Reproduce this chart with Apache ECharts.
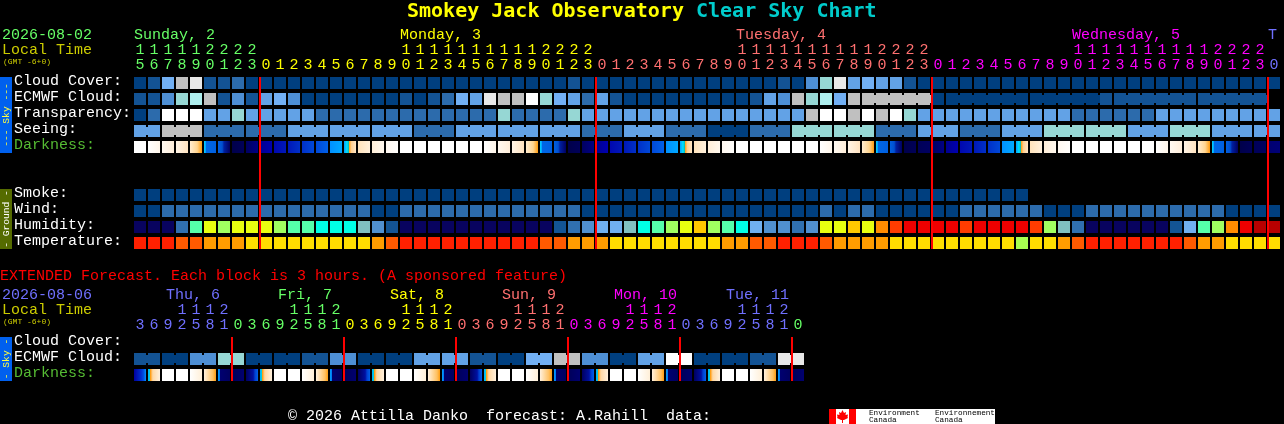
<!DOCTYPE html>
<html>
<head>
<meta charset="utf-8">
<style>html,body{margin:0;padding:0;background:#000}#c{width:1284px;height:424px}</style>
<script src="https://cdn.jsdelivr.net/npm/echarts@6/dist/echarts.min.js"></script>
</head>
<body>
<div id="c"></div>
<script>
// ---------- categories ----------
const rowNames = ['Cloud Cover:','ECMWF Cloud:','Transparency:','Seeing:','Darkness:','','','Smoke:','Wind:','Humidity:','Temperature:'];
const extRowNames = ['Cloud Cover:','ECMWF Cloud:','Darkness:'];
const hourUnits = [5,6,7,8,9,0,1,2,3, 0,1,2,3,4,5,6,7,8,9,0,1,2,3,4,5,6,7,8,9,0,1,2,3, 0,1,2,3,4,5,6,7,8,9,0,1,2,3,4,5,6,7,8,9,0,1,2,3, 0,1,2,3,4,5,6,7,8,9,0,1,2,3,4,5,6,7,8,9,0,1,2,3, 0];
const hourTens = [1,1,1,1,1,2,2,2,2, '','','','','','','','','','',1,1,1,1,1,1,1,1,1,1,2,2,2,2, '','','','','','','','','','',1,1,1,1,1,1,1,1,1,1,2,2,2,2, '','','','','','','','','','',1,1,1,1,1,1,1,1,1,1,2,2,2,2, ''];
const extUnits = [3,6,9,2,5,8,1, 0,3,6,9,2,5,8,1, 0,3,6,9,2,5,8,1, 0,3,6,9,2,5,8,1, 0,3,6,9,2,5,8,1, 0,3,6,9,2,5,8,1, 0];
const extTens = ['','',''    ,1,1,1,2, '','','','',1,1,1,2, '','','','',1,1,1,2, '','','','',1,1,1,2, '','','','',1,1,1,2, '','','','',1,1,1,2, ''];
const dayLabels = [['Sunday, 2',0,0],['Monday, 3',19,1],['Tuesday, 4',43,2],['Wednesday, 5',67,3],['T',81,4]];
const extDayLabels = [['Thu, 6',2,4],['Fri, 7',10,0],['Sat, 8',18,1],['Sun, 9',26,2],['Mon, 10',34,3],['Tue, 11',42,4]];
const dayOfColumn = [0,0,0,0,0,0,0,0,0, 1,1,1,1,1,1,1,1,1,1,1,1,1,1,1,1,1,1,1,1,1,1,1,1, 2,2,2,2,2,2,2,2,2,2,2,2,2,2,2,2,2,2,2,2,2,2,2,2, 3,3,3,3,3,3,3,3,3,3,3,3,3,3,3,3,3,3,3,3,3,3,3,3, 4];
const extDayOfColumn = [4,4,4,4,4,4,4, 0,0,0,0,0,0,0,0, 1,1,1,1,1,1,1,1, 2,2,2,2,2,2,2,2, 3,3,3,3,3,3,3,3, 4,4,4,4,4,4,4,4, 0];
const midnightColumns = [9,33,57,81];
const extMidnightColumns = [7,15,23,31,39,47];

// ---------- series values (palette levels) ----------
const cloudCover = [0,1,5,8,9,1,1,2,0, 0,0,0,0,0,0,0,0,0,0,0,0,0,0,0, 0,0,0,0,0,0,0,1, 0,0,0,0,0,0,0,0,0,0,0,0,0,0,1,0, 3,6,9,4,5,4,4,1, 0,0,0,0,0,0,0,0,0,0,0,0,0,0,0,0,0,0,0,0,0,0,0,0,0,0];
const ecmwfCloud = [1,1,3,6,7,8,1,3,1, 4,5,3,0,0,0,0,0,0,0,1,0,1,2,5, 4,9,8,8,10,6,5,4,2,4,1, 0,0,0,0,0,0,0,0,0,1,4,3, 8,6,7,5, 8,8,8,8,8,8, 0,0,0,0,0,0, 0,0,0,0,0,0, 1,1,1,1,1,1, 1,1,1,1,1,1];
const ecmwfBlockStart = 52;
const ecmwfBlockLengths = [6,6,6,6,6];
const transparency = [0,2,10,10,10,4,4,6,4,4,4,4,4, 2,2,2,2,2,2,2,2,2,2,2,2,2, 6, 2,2,2,2, 6, 4,4,4,4,4,4,4,4,4,4,4,4,4,4,4,4, 8,10,10,8,10,8,10,6, 4,4,4,4,4,4,4,4,4,4,4, 2,2,2,2,2,2, 4,4,4,4,4,4,4,4,4];
const seeingLengths = [2,3,3,3,3,3,3,3,3,3,3,3,3,3,3,3,3,3,3,3,3,3,3,3,3,3,3,2];
const seeingLevels  = [4,8,2,2,4,4,4,2,4,4,4,2,4,2,0,2,6,6,2,4,2,4,6,6,4,6,4,4];
const darkness = 'WpqrstunmabcdefDghiWWWWW'.split('').concat(
  'WpqrstunmabcdefDghiWWWWW'.split(''),
  'WpqrstunomabcdfDghiWWWWW'.split(''),
  'Wpqrstunol'.split(''));
const smoke = [0,0,0,0,0,0,0,0,0,0,0,0,0,0,0,0,0,0,0,0,0,0,0,0,0,0,0,0,0,0,0,0,0,0,0,0,0,0,0,0,0,0,0,0,0,0,0,0,0,0,0,0,0,0,0,0,0,0,0,0,0,0,0,0];
const wind = [0,0, 2,2,2,2,2,2,2,2,2,2,2,2,2,2,2, 0,0, 2,2,2,2,2,2,2,2,2,2,2,2,2, 0,0,0,0,0,0,0,0,0,0,0,0,0,0,0,0,0, 2,0,2,2, 0,0,0,0,0,0, 2,2,2,2,2,2, 0,0,0, 2,2,2,2,2,2,2,2,2,2, 0,0,0,0];
const humidity = [0,0,0,2,7,9,8,9,9,9,8,7,7,6,6,6,5,3,1, 0,0,0,0,0,0,0,0,0,0,0, 1,2,3,4,4,5,6,7,8,9,10,8,7,6,4,3,3,2,3,9,9,10,9,11,12,13,13,13,13,12,13,13,13,13,12,8,5,2, 0,0,0,0,0,0, 1,4,7,8,11,13,14,14];
const temperature = [0,0,0,1,1,2,2,2, 3,3,3,3,3,3,3,3,3, 2,1, 0,0,0,0,0,0,0,0,0,0, 1,1,2,2,2, 3,3,3,3,3,3,3,3, 2,2,1,1,0,0,0,1,2,2,2,2, 3,3,3,3,3,3,3,3,3, 4,3,3,2,1, 0,0,0,0,0,0,0, 1,2,2,3,3,3,3];
const extEcmwfLevels = [1,0,3,6,0,0,1,3,0,0,4,4,1,0,5,8,3,0,4,10,0,0,1,9];
const extEcmwfBlockLength = 2;
const extDarkness = 'ABWWQRST'.split('').concat('CBWWQRST'.split(''),'CBWWQRST'.split(''),'CBWWQRST'.split(''),'CBWWQRST'.split(''),'CBWWQRST'.split(''));

// ---------- palettes ----------
const dayColors = ['#66ff66','#ffff00','#ff7070','#ff00ff','#7070ff'];
const cloudPalette = ['#003f7f','#135394','#2c6bac','#4e8fd4','#62a2e6','#72b0f4','#96d7d4','#aeeeee','#c0c0c0','#e8e8e8','#ffffff'];
const humidityPalette = ['#08035f','#135494','#3070b0','#5090d0','#70b0f0','#80c0c0','#00ffe6','#55ffaa','#a0ff60','#e8ff10','#ffc800','#ff8c00','#ff3c00','#ee0000','#b80000'];
const temperaturePalette = ['#ff2000','#ff5a00','#ff9c00','#ffdd00','#a8ff50'];
const darknessStops = {
  W:[[0,'#ffffff'],[1,'#ffffff']], p:[[0,'#ffffff'],[1,'#fff6ea']], q:[[0,'#fff9f1'],[1,'#ffeeda']],
  r:[[0,'#fff4e6'],[1,'#ffe3c0']], s:[[0,'#ffecd0'],[0.6,'#ffd590'],[1,'#ff9c10']],
  t:[[0,'#00d8ff'],[0.15,'#00a0ff'],[0.2,'#0066e6'],[1,'#0060e0']], u:[[0,'#0060e0'],[0.35,'#0050d0'],[0.5,'#0020a0'],[1,'#000060']],
  n:[[0,'#00004a'],[1,'#000058']], o:[[0,'#000058'],[1,'#000060']], m:[[0,'#000060'],[1,'#000084']], l:[[0,'#000070'],[1,'#000078']],
  a:[[0,'#000090'],[1,'#0000b0']], b:[[0,'#0008b0'],[1,'#0018b8']], c:[[0,'#0018b8'],[1,'#0030c8']],
  d:[[0,'#0030c8'],[1,'#0048d8']], e:[[0,'#0048d8'],[1,'#0060e8']], f:[[0,'#0090ff'],[1,'#00a8ff']],
  D:[[0,'#00a0ff'],[0.25,'#00e0ff'],[0.38,'#00c0c0'],[0.42,'#ff9c10'],[0.62,'#ffcf90'],[1,'#ffe6c6']],
  g:[[0,'#ffe3bc'],[1,'#fff0dc']], h:[[0,'#ffeed8'],[1,'#fff8ee']], i:[[0,'#fff8f0'],[1,'#fffefc']],
  A:[[0,'#0000a0'],[0.6,'#0030d0'],[0.8,'#0050e0'],[1,'#0090ff']], C:[[0,'#000060'],[0.6,'#0010a0'],[0.75,'#0040d0'],[1,'#0060e8']],
  B:[[0,'#00b0ff'],[0.15,'#00d0e0'],[0.2,'#ff9c10'],[0.4,'#ffd8a4'],[1,'#fff0dc']], Q:[[0,'#ffffff'],[1,'#ffefd8']],
  R:[[0,'#fff0dc'],[0.75,'#ffc060'],[1,'#ff9c10']], S:[[0,'#00a0ff'],[0.17,'#0070f0'],[0.2,'#000070'],[1,'#000060']], T:[[0,'#000058'],[1,'#000070']]
};

const FONT = '"Liberation Mono","DejaVu Sans Mono",monospace';
const TITLE_FONT = 'bold 20px "DejaVu Sans Mono","Liberation Mono",monospace';
const gradientFor = code => new echarts.graphic.LinearGradient(0,0,1,0,
  darknessStops[code].map(s => ({offset:s[0], color:s[1]})));

// ---------- assemble cells: [column, row, colour-ref, linkedToNext] ----------
function expandBlocks(lengths, levels){
  const out=[]; lengths.forEach((n,b)=>{for(let k=0;k<n;k++) out.push([levels[b],k<n-1?1:0]);}); return out;
}
function plainRow(values, row, palette){ return values.map((v,i)=>[i,row,palette[v],0]); }
const seeingCells = expandBlocks(seeingLengths, seeingLevels);
const ecmwfLinks = [];
{ let c=ecmwfBlockStart; ecmwfBlockLengths.forEach(n=>{for(let k=0;k<n;k++) ecmwfLinks[c++]=k<n-1?1:0;}); }
const mainCells = [].concat(
  plainRow(cloudCover,0,cloudPalette),
  ecmwfCloud.map((v,i)=>[i,1,cloudPalette[v],ecmwfLinks[i]||0]),
  plainRow(transparency,2,cloudPalette),
  seeingCells.map((s,i)=>[i,3,cloudPalette[s[0]],s[1]]),
  darkness.map((d,i)=>[i,4,'grad:'+d,0]),
  plainRow(smoke,7,cloudPalette),
  plainRow(wind,8,cloudPalette),
  plainRow(humidity,9,humidityPalette),
  plainRow(temperature,10,temperaturePalette)
);
const extCells = [].concat(
  extEcmwfLevels.flatMap((lv,b)=>{const out=[];for(let k=0;k<extEcmwfBlockLength;k++) out.push([b*extEcmwfBlockLength+k,1,cloudPalette[lv],k<extEcmwfBlockLength-1?1:0]);return out;}),
  extDarkness.map((d,i)=>[i,2,'grad:'+d,0])
);

function renderCell(p, api, cells){
  const c = api.coord([api.value(0), api.value(1)]);
  const band = api.size([1,1]);
  const x = Math.round(c[0]-band[0]/2)+1, y = Math.round(c[1]-band[1]/2)+2;
  const w = band[0]-2, h = band[1]-4;
  const item = cells[p.dataIndex];
  const fill = item[2].indexOf('grad:')===0 ? gradientFor(item[2].slice(5)) : item[2];
  const children = [{type:'rect',shape:{x,y,width:w,height:h},style:{fill}}];
  if(item[3]) children.push({type:'rect',shape:{x:x+w,y:y+2,width:2,height:h-4},style:{fill}});
  return {type:'group',children};
}
function cellSeries(cells, xIdx, yIdx){
  return {type:'custom',xAxisIndex:xIdx,yAxisIndex:yIdx,encode:{x:0,y:1},data:cells.map(c=>[c[0],c[1]]),silent:true,z:2,
    renderItem:(p,api)=>renderCell(p,api,cells)};
}
function lineSeries(cols, xIdx, yIdx, lastRow){
  return {type:'custom',xAxisIndex:xIdx,yAxisIndex:yIdx,encode:{x:0},data:cols.map(c=>[c]),silent:true,z:5,
    renderItem:(p,api)=>{
      const c=api.coord([api.value(0),0]), b=api.size([1,1]);
      const last=api.coord([api.value(0),lastRow]);
      const x=Math.round(c[0]-b[0]/2), y0=Math.round(c[1]-b[1]/2)+2, y1=Math.round(last[1]+b[1]/2)-2;
      return {type:'rect',shape:{x,y:y0,width:2,height:y1-y0},style:{fill:'#ff0000'}};
    }};
}
function dayLabelSeries(labels, xIdx, yIdx, yPx, offset){
  return {type:'custom',xAxisIndex:xIdx,yAxisIndex:yIdx,encode:{x:0},data:labels.map(l=>[l[1]]),silent:true,z:6,
    renderItem:(p,api)=>{
      const c=api.coord([api.value(0),0]), b=api.size([1,1]), l=labels[p.dataIndex];
      return {type:'text',style:{x:Math.round(c[0]-b[0]/2)+offset,y:yPx,text:l[0],fill:dayColors[l[2]],font:'15px '+FONT,align:'left',verticalAlign:'middle'}};
    }};
}
function digitAxis(grid, labels, owner, offset){
  return {type:'category',gridIndex:grid,position:'top',offset,boundaryGap:true,
    data:labels.map((v,i)=>({value:String(v),textStyle:{color:dayColors[owner[i]]}})),
    axisLine:{show:false},axisTick:{show:false},splitLine:{show:false},
    axisLabel:{show:true,interval:0,margin:2,fontFamily:FONT,fontSize:15,hideOverlap:false}};
}
function rowAxis(grid, names){
  return {type:'category',gridIndex:grid,inverse:true,
    data:names.map(n=>({value:n,textStyle:{color:n==='Darkness:'?'#55bb33':'#ffffff',align:'left',verticalAlign:'bottom',lineHeight:4}})),
    axisLine:{show:false},axisTick:{show:false},splitLine:{show:false},
    axisLabel:{show:true,interval:0,align:'left',margin:119,fontFamily:FONT,fontSize:15,hideOverlap:false}};
}
const txt = (x,y,text,fill,size,extra) => ({type:'text',z:10,style:Object.assign({x,y,text,fill,font:size+'px '+FONT,align:'left',verticalAlign:'middle'},extra||{})});
const side = (y,h,bg,text,fg) => [
  {type:'rect',z:9,shape:{x:0,y,width:12,height:h},style:{fill:bg}},
  {type:'text',z:10,x:6,y:y+h/2,rotation:Math.PI/2,style:{x:0,y:0,text,fill:fg,font:'9.6px '+FONT,align:'center',verticalAlign:'middle'}}
];
const graphics = [].concat(
  [{type:'text',z:10,style:{x:407,y:12,text:'{a|Smokey Jack Observatory} {b|Clear Sky Chart}',font:TITLE_FONT,align:'left',verticalAlign:'middle',
     rich:{a:{fill:'#ffff00',font:TITLE_FONT},b:{fill:'#00cccc',font:TITLE_FONT}}}}],
  txt(2,35,'2026-08-02','#66ff66',15), txt(2,50,'Local Time','#cccc00',15), txt(3,62,'(GMT -6+0)','#cccc00',8),
  side(77,76,'#0060ee','--- Sky ---','#ffff40'), side(189,60,'#556b00','- Ground -','#ffffff'),
  txt(0,276,'EXTENDED Forecast. Each block is 3 hours. (A sponsored feature)','#ff0000',15),
  txt(2,295,'2026-08-06','#7070ff',15), txt(2,310,'Local Time','#cccc00',15), txt(3,322,'(GMT -6+0)','#cccc00',8),
  side(337,44,'#0060ee','- Sky -','#ffff40'),
  txt(288,416,'\u00a9 2026 Attilla Danko  forecast: A.Rahill  data:','#ffffff',15),
  {type:'rect',z:9,shape:{x:829,y:409,width:166,height:15},style:{fill:'#ffffff'}},
  {type:'rect',z:9,shape:{x:829,y:409,width:7,height:15},style:{fill:'#ff0000'}},
  {type:'rect',z:9,shape:{x:849,y:409,width:7,height:15},style:{fill:'#ff0000'}},
  {type:'polygon',z:10,shape:{points:[[842.5,410],[844,413],[846,412],[845.5,415],[848,414.5],[847.5,417],[848,418],[844,420],[843,420],[843,423],[842,423],[842,420],[841,420],[837,418],[837.5,417],[837,414.5],[839.5,415],[839,412],[841,413]]},style:{fill:'#ff0000'}},
  txt(869,412.5,'Environment','#000000',7.7), txt(869,420,'Canada','#000000',7.7),
  txt(935,412.5,'Environnement','#000000',7.7), txt(935,420,'Canada','#000000',7.7)
);

const chart = echarts.init(document.getElementById('c'),null,{renderer:'canvas',width:1284,height:424});
chart.setOption({
  animation:false, backgroundColor:'#000000',
  grid:[{left:133,top:75,width:1148,height:176,outerBoundsMode:'none',containLabel:false},
        {left:133,top:335,width:672,height:48,outerBoundsMode:'none',containLabel:false}],
  xAxis:[digitAxis(0,hourUnits,dayOfColumn,0),digitAxis(0,hourTens,dayOfColumn,15),digitAxis(1,extUnits,extDayOfColumn,0),digitAxis(1,extTens,extDayOfColumn,15)],
  yAxis:[rowAxis(0,rowNames),rowAxis(1,extRowNames)],
  graphic:{elements:graphics},
  series:[
    cellSeries(mainCells,0,0),
    lineSeries(midnightColumns,0,0,10),
    dayLabelSeries(dayLabels,0,0,35,1),
    cellSeries(extCells,2,1),
    lineSeries(extMidnightColumns,2,1,2),
    dayLabelSeries(extDayLabels,2,1,295,5)
  ]
});
</script>
</body>
</html>
